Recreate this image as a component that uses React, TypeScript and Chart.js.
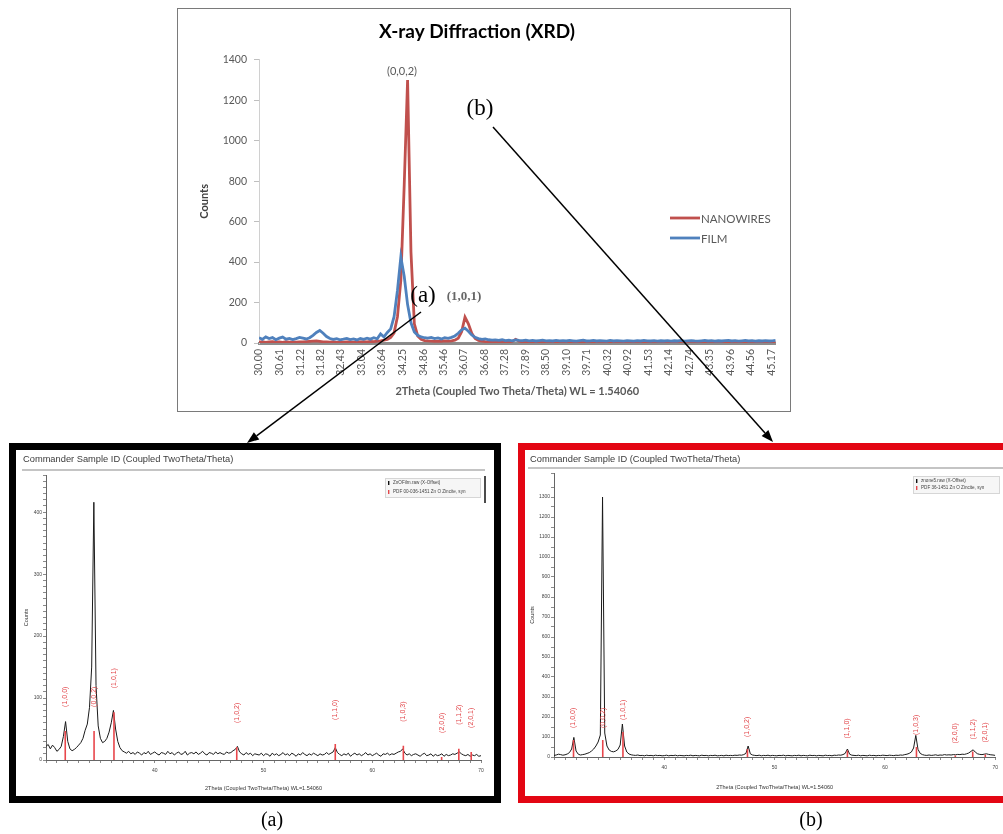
import React, { useEffect, useRef } from 'react';
import { Chart, registerables } from 'chart.js';

Chart.register(...registerables);

// ---------------- Top chart (Excel style) ----------------
const TOP_X_START = 30.0;
const TOP_X_STEP = 0.1;
const TOP_TICK_LABELS = ['30.00','30.61','31.22','31.82','32.43','33.04','33.64','34.25','34.86','35.46','36.07','36.68','37.28','37.89','38.50','39.10','39.71','40.32','40.92','41.53','42.14','42.74','43.35','43.96','44.56','45.17'];
const SERIES_NAMES = ['NANOWIRES', 'FILM'];
const NANOWIRES = [
  4, 6, 3, 5, 7, 4, 5, 3, 6, 4,
  5, 4, 6, 5, 7, 8, 9, 10, 8, 6,
  5, 4, 6, 3, 5, 4, 6, 5, 4, 6,
  5, 7, 6, 8, 7, 9, 11, 14, 18, 28,
  50, 130, 310, 780, 1300, 450, 95, 35, 18, 12,
  10, 9, 8, 9, 8, 10, 9, 11, 14, 24,
  55, 128, 95, 48, 22, 13, 9, 7, 6, 5,
  6, 5, 7, 5, 6, 8, 18, 9, 6, 5,
  4, 5, 6, 4, 5, 3, 4, 5, 6, 4,
  5, 4, 3, 5, 4, 6, 4, 5, 3, 4,
  5, 4, 6, 3, 4, 5, 4, 3, 5, 4,
  3, 4, 5, 4, 3, 5, 4, 6, 4, 3,
  4, 5, 3, 4, 6, 4, 3, 5, 4, 3,
  5, 4, 3, 4, 5, 3, 4, 6, 4, 3,
  4, 3, 5, 4, 3, 4, 5, 3, 4, 5,
  3, 4, 5, 4,
];
const FILM = [
  26, 18, 30, 22, 27, 16, 24, 29, 19, 23,
  17, 22, 28, 24, 20, 26, 38, 52, 62, 48,
  32, 22, 18, 21, 16, 19, 23, 17, 20, 15,
  22, 18, 24, 19, 26, 21, 45, 30, 52, 70,
  130, 260, 425, 330, 190, 100, 55, 38, 30, 26,
  24, 28, 22, 25, 20, 26, 23, 28, 35, 48,
  65, 73, 58, 40, 28, 22, 18, 20, 16, 14,
  15, 13, 16, 12, 14, 11, 15, 13, 12, 14,
  11, 13, 10, 12, 14, 11, 12, 10, 13, 11,
  12, 10, 13, 11, 9, 12, 14, 10, 11, 13,
  10, 12, 11, 9, 13, 10, 12, 11, 9, 12,
  11, 9, 12, 10, 13, 11, 10, 12, 9, 11,
  10, 12, 9, 11, 10, 13, 9, 11, 12, 10,
  9, 11, 13, 10, 12, 9, 11, 10, 12, 13,
  10, 12, 9, 11, 13, 10, 12, 9, 11, 10,
  12, 10, 11, 13,
];

// ---------------- Lower panels (instrument software style) ----------------
const LOW_X_START = 30;
const LOW_X_STEP = 0.2;
const FILM_SCAN = [
  22, 25, 18, 24, 20, 14, 17, 22, 38, 62,
  30, 18, 15, 17, 20, 24, 28, 35, 48, 58,
  85, 150, 416, 120, 55, 35, 28, 30, 35, 45,
  60, 80, 50, 30, 20, 15, 13, 11, 14, 10,
  12, 9, 13, 11, 8, 12, 10, 14, 9, 11,
  13, 10, 8, 12, 11, 9, 14, 10, 12, 8,
  11, 13, 9, 10, 14, 8, 11, 12, 10, 13,
  9, 11, 14, 10, 8, 12, 11, 9, 13, 10,
  12, 10, 9, 13, 11, 12, 15, 17, 22, 13,
  10, 8, 12, 9, 11, 7, 10, 9, 8, 11,
  7, 10, 9, 6, 11, 8, 10, 7, 9, 12,
  8, 10, 7, 11, 9, 6, 10, 8, 12, 9,
  7, 10, 8, 11, 9, 7, 10, 8, 9, 12,
  9, 11, 13, 20, 12, 9, 7, 10, 8, 11,
  6, 9, 11, 8, 10, 7, 9, 12, 8, 10,
  7, 9, 11, 8, 6, 10, 9, 11, 8, 10,
  9, 11, 13, 14, 18, 11, 8, 10, 7, 9,
  10, 8, 6, 9, 11, 7, 8, 10, 6, 9,
  7, 8, 10, 6, 9, 7, 8, 10, 9, 11,
  13, 10, 8, 7, 9, 6, 8, 7, 9, 6,
  7,
];
const NANOWIRE_SCAN = [
  8, 10, 14, 12, 9, 11, 15, 22, 40, 98,
  30, 14, 10, 12, 14, 18, 22, 30, 40, 55,
  75, 110, 1300, 120, 55, 35, 28, 26, 30, 38,
  60, 165, 55, 25, 15, 11, 9, 8, 10, 7,
  8, 6, 9, 7, 8, 6, 9, 7, 8, 6,
  7, 9, 6, 8, 7, 9, 6, 8, 7, 6,
  8, 7, 9, 6, 8, 7, 6, 9, 7, 8,
  6, 8, 7, 9, 6, 7, 8, 6, 9, 7,
  8, 7, 9, 8, 10, 9, 12, 18, 55, 16,
  10, 8, 7, 9, 6, 8, 7, 9, 6, 8,
  7, 6, 8, 7, 9, 6, 8, 7, 6, 8,
  7, 9, 6, 8, 7, 6, 9, 7, 8, 6,
  8, 7, 6, 9, 7, 8, 6, 9, 8, 10,
  9, 12, 18, 40, 14, 9, 8, 7, 9, 6,
  8, 7, 6, 9, 7, 8, 6, 8, 7, 9,
  8, 7, 9, 8, 7, 9, 8, 10, 9, 12,
  14, 18, 25, 45, 108, 38, 18, 12, 9, 8,
  10, 8, 9, 11, 8, 10, 9, 12, 10, 11,
  10, 12, 11, 13, 12, 14, 13, 16, 20, 28,
  36, 24, 16, 13, 12, 14, 16, 13, 11, 10,
  8,
];
const PDF_POS = [31.77, 34.42, 36.25, 47.54, 56.6, 62.86, 66.38, 67.96, 69.1];
const PDF_HKL = ['(1,0,0)', '(0,0,2)', '(1,0,1)', '(1,0,2)', '(1,1,0)', '(1,0,3)', '(2,0,0)', '(1,1,2)', '(2,0,1)'];
const PDF_STICK_A = [47, 47, 77, 21, 26, 23, 5, 18, 13];
const PDF_STICK_B = [85, 85, 125, 40, 32, 50, 8, 28, 12];
const PANEL_TITLE = 'Commander Sample ID (Coupled TwoTheta/Theta)';
const PANEL_X_TITLE = '2Theta (Coupled TwoTheta/Theta) WL=1.54060';
const LEGEND_A = ['ZnOFilm.raw (X-Offset)', 'PDF 00-036-1451 Zn O Zincite, syn'];
const LEGEND_B = ['znone5.raw (X-Offset)', 'PDF 36-1451 Zn O Zincite, syn'];

const EXCEL_FONT = 'Lato, "Open Sans", sans-serif';
const SANS = '"Liberation Sans", Arial, sans-serif';
const SERIF = '"Liberation Serif", "Times New Roman", serif';

function TopChart() {
  const ref = useRef<HTMLCanvasElement | null>(null);
  useEffect(() => {
    const xs = NANOWIRES.map((_, i) => TOP_X_START + i * TOP_X_STEP);
    const decor = {
      id: 'topDecor',
      afterDraw(chart: any) {
        const ctx = chart.ctx;
        ctx.save();
        const rows = [
          { name: SERIES_NAMES[0], color: '#c0504d', y: 209 },
          { name: SERIES_NAMES[1], color: '#4f81bd', y: 229 },
        ];
        rows.forEach((r) => {
          ctx.strokeStyle = r.color;
          ctx.lineWidth = 2.8;
          ctx.beginPath();
          ctx.moveTo(492, r.y);
          ctx.lineTo(522, r.y);
          ctx.stroke();
          ctx.fillStyle = '#595959';
          ctx.font = `11.5px ${EXCEL_FONT}`;
          ctx.textAlign = 'left';
          ctx.textBaseline = 'middle';
          ctx.fillText(r.name, 523, r.y + 1);
        });
        ctx.textAlign = 'center';
        ctx.textBaseline = 'middle';
        ctx.fillStyle = '#595959';
        ctx.font = `11px ${EXCEL_FONT}`;
        ctx.fillText('(0,0,2)', 224, 62);
        ctx.fillStyle = '#000';
        ctx.font = `23px ${SERIF}`;
        ctx.fillText('(b)', 302, 100);
        ctx.fillText('(a)', 245, 287);
        ctx.fillStyle = '#666';
        ctx.font = `bold 13px ${SERIF}`;
        ctx.fillText('(1,0,1)', 286, 288);
        ctx.restore();
      },
    };
    const chart = new Chart(ref.current as HTMLCanvasElement, {
      type: 'line',
      data: {
        datasets: [
          {
            label: SERIES_NAMES[0],
            data: xs.map((x, i) => ({ x, y: NANOWIRES[i] })),
            borderColor: '#c0504d',
            borderWidth: 2.8,
            pointRadius: 0,
            tension: 0,
            order: 1,
          },
          {
            label: SERIES_NAMES[1],
            data: xs.map((x, i) => ({ x, y: FILM[i] })),
            borderColor: '#4f81bd',
            borderWidth: 2.8,
            pointRadius: 0,
            tension: 0,
            order: 0,
          },
        ],
      },
      options: {
        animation: false,
        responsive: false,
        devicePixelRatio: 1,
        layout: { padding: { left: 0, right: 14, top: 0, bottom: 0 } },
        plugins: {
          legend: { display: false },
          tooltip: { enabled: false },
          title: {
            display: true,
            text: 'X-ray Diffraction (XRD)',
            color: '#000',
            font: { family: EXCEL_FONT, size: 19, weight: 'bold' },
            padding: { top: 11, bottom: 17 },
          },
        },
        scales: {
          x: {
            type: 'linear',
            min: 30,
            max: 45.3,
            afterBuildTicks: (s: any) => {
              s.ticks = TOP_TICK_LABELS.map((l) => ({ value: parseFloat(l) }));
            },
            afterFit: (s: any) => {
              s.height = 68;
            },
            ticks: {
              autoSkip: false,
              minRotation: 90,
              maxRotation: 90,
              padding: 6,
              color: '#595959',
              font: { family: EXCEL_FONT, size: 10.5 },
              callback: (_v: any, i: number) => TOP_TICK_LABELS[i],
            },
            grid: { display: false, drawTicks: false },
            border: { color: '#8c8c8c', width: 3 },
            title: {
              display: true,
              text: '2Theta (Coupled Two Theta/Theta) WL = 1.54060',
              color: '#595959',
              font: { family: EXCEL_FONT, size: 11, weight: 'bold' },
              padding: { top: 4, bottom: 13 },
            },
          },
          y: {
            min: 0,
            max: 1400,
            afterFit: (s: any) => {
              s.width = 81;
            },
            ticks: {
              stepSize: 200,
              color: '#595959',
              font: { family: EXCEL_FONT, size: 10.5 },
              padding: 7,
              callback: (v: any) => String(v),
            },
            grid: { drawOnChartArea: false, tickLength: 5, color: '#bfbfbf' },
            border: { color: '#d0d0d0', width: 1 },
            title: {
              display: true,
              text: 'Counts',
              color: '#404040',
              font: { family: EXCEL_FONT, size: 11, weight: 'bold' },
              padding: { top: 20, bottom: 0 },
            },
          },
        },
      },
      plugins: [decor],
    } as any);
    return () => chart.destroy();
  }, []);
  return <canvas ref={ref} width={612} height={402} style={{ display: 'block', width: 612, height: 402 }} />;
}

type PanelProps = {
  scan: number[];
  sticks: number[];
  yMax: number;
  yMinor: number;
  yMajor: number;
  area: { left: number; right: number; top: number; bottom: number };
  legend: string[];
  legendBox: { x: number; y: number; w: number; h: number };
  legendRows: number[];
  cursor: boolean;
  titleX: number;
  sepX0: number;
  sepX1: number;
  sepY: number;
  labelGap: number;
  yTitlePad: number;
  xTitlePad: number;
};

const PANEL_W = 478;
const PANEL_H = 346;

function LowerPanel(p: PanelProps) {
  const ref = useRef<HTMLCanvasElement | null>(null);
  useEffect(() => {
    const xs = p.scan.map((_, i) => LOW_X_START + i * LOW_X_STEP);
    const stickData: any[] = [];
    PDF_POS.forEach((pos, i) => {
      stickData.push({ x: pos, y: 0 }, { x: pos, y: p.sticks[i] }, { x: pos, y: null });
    });
    const decor = {
      id: 'panelDecor',
      afterDraw(chart: any) {
        const ctx = chart.ctx;
        const sx = chart.scales.x;
        const sy = chart.scales.y;
        ctx.save();
        ctx.fillStyle = '#3a3a3a';
        ctx.font = `9.3px ${SANS}`;
        ctx.textAlign = 'left';
        ctx.textBaseline = 'middle';
        ctx.fillText(PANEL_TITLE, p.titleX, 9);
        ctx.strokeStyle = '#8a8a8a';
        ctx.lineWidth = 1.2;
        ctx.beginPath();
        ctx.moveTo(p.sepX0, p.sepY);
        ctx.lineTo(p.sepX1, p.sepY);
        ctx.stroke();
        ctx.fillStyle = '#e2474b';
        ctx.font = `7px ${SANS}`;
        PDF_POS.forEach((pos, i) => {
          const x = sx.getPixelForValue(pos);
          const y = sy.getPixelForValue(p.sticks[i]) - p.labelGap;
          ctx.save();
          ctx.translate(x, y);
          ctx.rotate(-Math.PI / 2);
          ctx.textAlign = 'left';
          ctx.textBaseline = 'middle';
          ctx.fillText(PDF_HKL[i], 0, 0);
          ctx.restore();
        });
        const b = p.legendBox;
        ctx.fillStyle = '#f6f6f6';
        ctx.fillRect(b.x, b.y, b.w, b.h);
        ctx.strokeStyle = '#d6d6d6';
        ctx.lineWidth = 1;
        ctx.strokeRect(b.x + 0.5, b.y + 0.5, b.w, b.h);
        ctx.font = `4.6px ${SANS}`;
        ctx.textAlign = 'left';
        ctx.textBaseline = 'middle';
        p.legend.forEach((t, i) => {
          const y = p.legendRows[i];
          ctx.fillStyle = i === 0 ? '#111' : '#e2474b';
          ctx.fillRect(b.x + 3, y - 2, 1.4, 4);
          ctx.fillStyle = '#444';
          ctx.fillText(t, b.x + 8, y);
        });
        if (p.cursor) {
          ctx.strokeStyle = '#111';
          ctx.lineWidth = 1.5;
          ctx.beginPath();
          ctx.moveTo(b.x + b.w + 5, b.y - 2);
          ctx.lineTo(b.x + b.w + 5, b.y + 25);
          ctx.stroke();
        }
        ctx.restore();
      },
    };
    const chart = new Chart(ref.current as HTMLCanvasElement, {
      type: 'line',
      data: {
        datasets: [
          {
            label: p.legend[1],
            data: stickData,
            borderColor: '#e8474c',
            borderWidth: 1.6,
            pointRadius: 0,
            spanGaps: false,
            order: 0,
          },
          {
            label: p.legend[0],
            data: xs.map((x, i) => ({ x, y: p.scan[i] })),
            borderColor: '#1a1a1a',
            borderWidth: 1,
            pointRadius: 0,
            tension: 0,
            order: 1,
          },
        ],
      },
      options: {
        animation: false,
        responsive: false,
        devicePixelRatio: 1,
        layout: { padding: { left: 0, right: PANEL_W - p.area.right, top: p.area.top, bottom: 0 } },
        plugins: { legend: { display: false }, tooltip: { enabled: false }, title: { display: false } },
        scales: {
          x: {
            type: 'linear',
            min: 30,
            max: 70,
            afterFit: (s: any) => {
              s.height = PANEL_H - p.area.bottom;
            },
            ticks: {
              stepSize: 1,
              autoSkip: false,
              maxRotation: 0,
              padding: 5,
              color: '#444',
              font: { family: SANS, size: 5 },
              callback: (v: any) => (Number(v) % 10 === 0 && Number(v) !== 30 ? String(v) : ''),
            },
            grid: { drawOnChartArea: false, tickLength: 3, color: '#8a8a8a' },
            border: { color: '#666', width: 1 },
            title: {
              display: true,
              text: PANEL_X_TITLE,
              color: '#333',
              font: { family: SANS, size: 5.5 },
              padding: { top: 0, bottom: p.xTitlePad },
            },
          },
          y: {
            min: 0,
            max: p.yMax,
            afterFit: (s: any) => {
              s.width = p.area.left;
            },
            ticks: {
              stepSize: p.yMinor,
              autoSkip: false,
              padding: 1,
              color: '#444',
              font: { family: SANS, size: 5 },
              callback: (v: any) => (Number(v) % p.yMajor === 0 ? String(v) : ''),
            },
            grid: { drawOnChartArea: false, tickLength: 3, color: '#8a8a8a' },
            border: { color: '#666', width: 1 },
            title: {
              display: true,
              text: 'Counts',
              color: '#333',
              font: { family: SANS, size: 5.5 },
              padding: { top: p.yTitlePad, bottom: 0 },
            },
          },
        },
      },
      plugins: [decor],
    } as any);
    return () => chart.destroy();
  }, []);
  return <canvas ref={ref} width={PANEL_W} height={PANEL_H} style={{ display: 'block', width: PANEL_W, height: PANEL_H }} />;
}

function Arrow({ x1, y1, x2, y2 }: { x1: number; y1: number; x2: number; y2: number }) {
  const ang = Math.atan2(y2 - y1, x2 - x1);
  const L = 12;
  const W = 4.5;
  const bx = x2 - L * Math.cos(ang);
  const by = y2 - L * Math.sin(ang);
  const px = -Math.sin(ang) * W;
  const py = Math.cos(ang) * W;
  return (
    <g>
      <line x1={x1} y1={y1} x2={bx} y2={by} stroke="#000" strokeWidth={1.5} />
      <polygon points={`${x2},${y2} ${bx + px},${by + py} ${bx - px},${by - py}`} fill="#000" />
    </g>
  );
}

export default function App() {
  return (
    <div style={{ position: 'absolute', left: 0, top: 0, width: 1003, height: 834, overflow: 'hidden', background: '#fff' }}>
      <div style={{ position: 'absolute', left: 177, top: 8, width: 614, height: 404, border: '1px solid #7a7a7a', boxSizing: 'border-box', background: '#fff' }}>
        <TopChart />
      </div>
      <div style={{ position: 'absolute', left: 9, top: 443, width: 492, height: 360, border: '7px solid #000', boxSizing: 'border-box', background: '#fff' }}>
        <LowerPanel
          scan={FILM_SCAN}
          sticks={PDF_STICK_A}
          yMax={460}
          yMinor={10}
          yMajor={100}
          area={{ left: 30, right: 465, top: 25, bottom: 310 }}
          legend={LEGEND_A}
          legendBox={{ x: 369, y: 28, w: 95, h: 19 }}
          legendRows={[33, 42]}
          cursor={true}
          titleX={7}
          sepX0={6}
          sepX1={469}
          sepY={20}
          labelGap={24}
          yTitlePad={6.7}
          xTitlePad={4.7}
        />
      </div>
      <div style={{ position: 'absolute', left: 518, top: 443, width: 492, height: 360, border: '7px solid #e30613', boxSizing: 'border-box', background: '#fff' }}>
        <LowerPanel
          scan={NANOWIRE_SCAN}
          sticks={PDF_STICK_B}
          yMax={1420}
          yMinor={50}
          yMajor={100}
          area={{ left: 29, right: 473, top: 23, bottom: 307 }}
          legend={LEGEND_B}
          legendBox={{ x: 388, y: 26, w: 86, h: 17 }}
          legendRows={[31, 38]}
          cursor={false}
          titleX={5}
          sepX0={3}
          sepX1={478}
          sepY={18}
          labelGap={12}
          yTitlePad={3.7}
          xTitlePad={5.7}
        />
      </div>
      <svg width={1003} height={834} style={{ position: 'absolute', left: 0, top: 0, pointerEvents: 'none' }}>
        <Arrow x1={421} y1={312} x2={247} y2={443} />
        <Arrow x1={493} y1={127} x2={773} y2={442} />
      </svg>
      <div style={{ position: 'absolute', left: 232, top: 808, width: 80, textAlign: 'center', font: `20px ${SERIF}`, color: '#000' }}>(a)</div>
      <div style={{ position: 'absolute', left: 771, top: 808, width: 80, textAlign: 'center', font: `20px ${SERIF}`, color: '#000' }}>(b)</div>
    </div>
  );
}
